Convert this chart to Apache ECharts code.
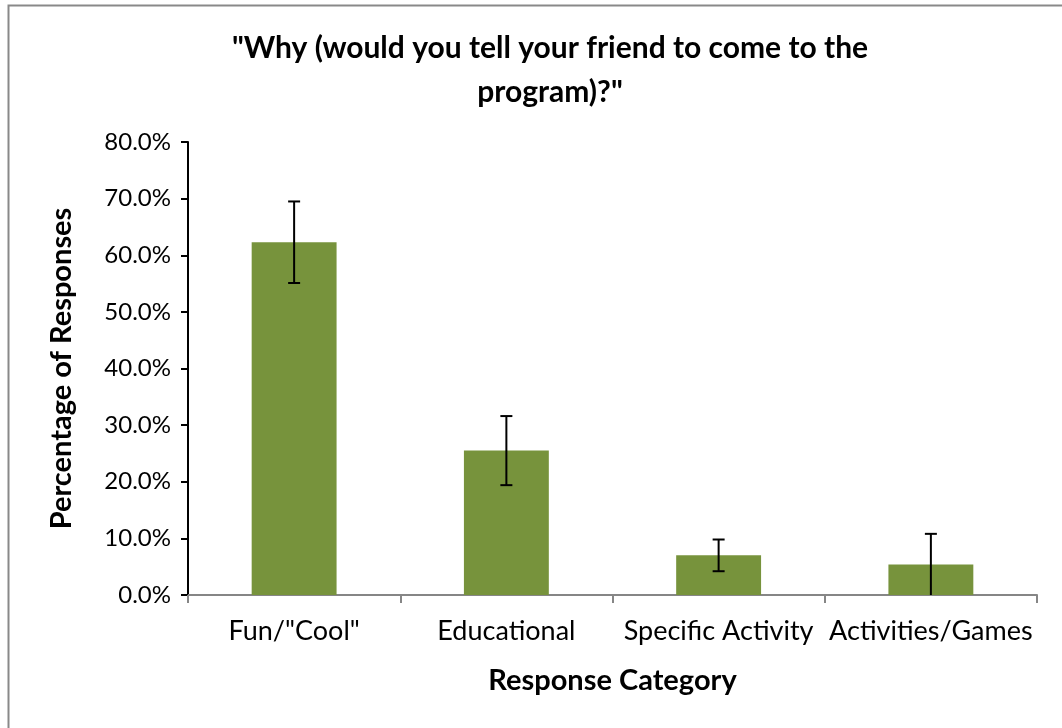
<!DOCTYPE html>
<html>
<head>
<meta charset="utf-8">
<script src="https://cdn.jsdelivr.net/npm/echarts@6/dist/echarts.min.js"></script>
<style>
html,body{margin:0;padding:0;background:#fff;}
#chart{width:1062px;height:728px;}
</style>
</head>
<body>
<div id="chart"></div>
<script>
var categories = ['Fun/"Cool"', 'Educational', 'Specific Activity', 'Activities/Games'];
var values = [62.3, 25.5, 7.0, 5.4];
var errorPlus = [7.2, 6.1, 2.8, 5.4];
var errorMinus = [7.2, 6.1, 2.8, 5.4];
var yTicks = [0, 10, 20, 30, 40, 50, 60, 70, 80];

var FONT = 'Lato';
var chart = echarts.init(document.getElementById('chart'));

var errData = values.map(function (v, i) {
  return [i, Math.max(0, v - errorMinus[i]), v + errorPlus[i]];
});

chart.setOption({
  backgroundColor: '#ffffff',
  animation: false,
  title: {
    text: '"Why (would you tell your friend to come to the\nprogram)?"',
    left: 545,
    top: 21,
    textAlign: 'center',
    textStyle: {
      fontFamily: FONT,
      fontWeight: 'bold',
      fontSize: 30,
      color: '#000',
      lineHeight: 44
    }
  },
  graphic: [{
    type: 'rect',
    shape: { x: 8.5, y: 5.5, width: 1200, height: 900 },
    style: { fill: 'none', stroke: '#898989', lineWidth: 2 },
    silent: true
  }],
  grid: { left: 188, right: 25, top: 142, bottom: 133 },
  xAxis: {
    type: 'category',
    data: categories,
    name: 'Response Category',
    nameLocation: 'middle',
    nameGap: 71,
    nameTextStyle: { fontFamily: FONT, fontWeight: 'bold', fontSize: 29, color: '#000' },
    axisLine: { lineStyle: { color: '#868686', width: 2 } },
    axisTick: { show: true, length: 8, lineStyle: { color: '#868686', width: 2 } },
    axisLabel: { fontFamily: FONT, fontSize: 27, color: '#000', margin: 23, interval: 0 }
  },
  yAxis: {
    type: 'value',
    min: yTicks[0],
    max: yTicks[yTicks.length - 1],
    interval: 10,
    name: 'Percentage of Responses',
    nameLocation: 'middle',
    nameGap: 112,
    nameTextStyle: { fontFamily: FONT, fontWeight: 'bold', fontSize: 29, color: '#000' },
    axisLine: { show: true, lineStyle: { color: '#000', width: 2 } },
    axisTick: { show: true, length: 7, lineStyle: { color: '#000', width: 2 } },
    splitLine: { show: false },
    axisLabel: {
      fontFamily: FONT, fontSize: 24, color: '#000', margin: 17,
      formatter: function (v) { return v.toFixed(1) + '%'; }
    }
  },
  series: [{
    type: 'bar',
    data: values,
    barCategoryGap: '60%',
    itemStyle: { color: '#77933C' }
  }, {
    type: 'custom',
    data: errData,
    z: 10,
    renderItem: function (params, api) {
      var x = api.value(0);
      var lo = api.coord([x, api.value(1)]);
      var hi = api.coord([x, api.value(2)]);
      var cap = 6;
      var children = [{
        type: 'line',
        shape: { x1: hi[0], y1: hi[1], x2: lo[0], y2: lo[1] },
        style: { stroke: '#000', lineWidth: 2 }
      }, {
        type: 'line',
        shape: { x1: hi[0] - cap, y1: hi[1], x2: hi[0] + cap, y2: hi[1] },
        style: { stroke: '#000', lineWidth: 2 }
      }];
      if (api.value(1) > 0) {
        children.push({
          type: 'line',
          shape: { x1: lo[0] - cap, y1: lo[1], x2: lo[0] + cap, y2: lo[1] },
          style: { stroke: '#000', lineWidth: 2 }
        });
      }
      return { type: 'group', children: children };
    }
  }]
});
</script>
</body>
</html>
